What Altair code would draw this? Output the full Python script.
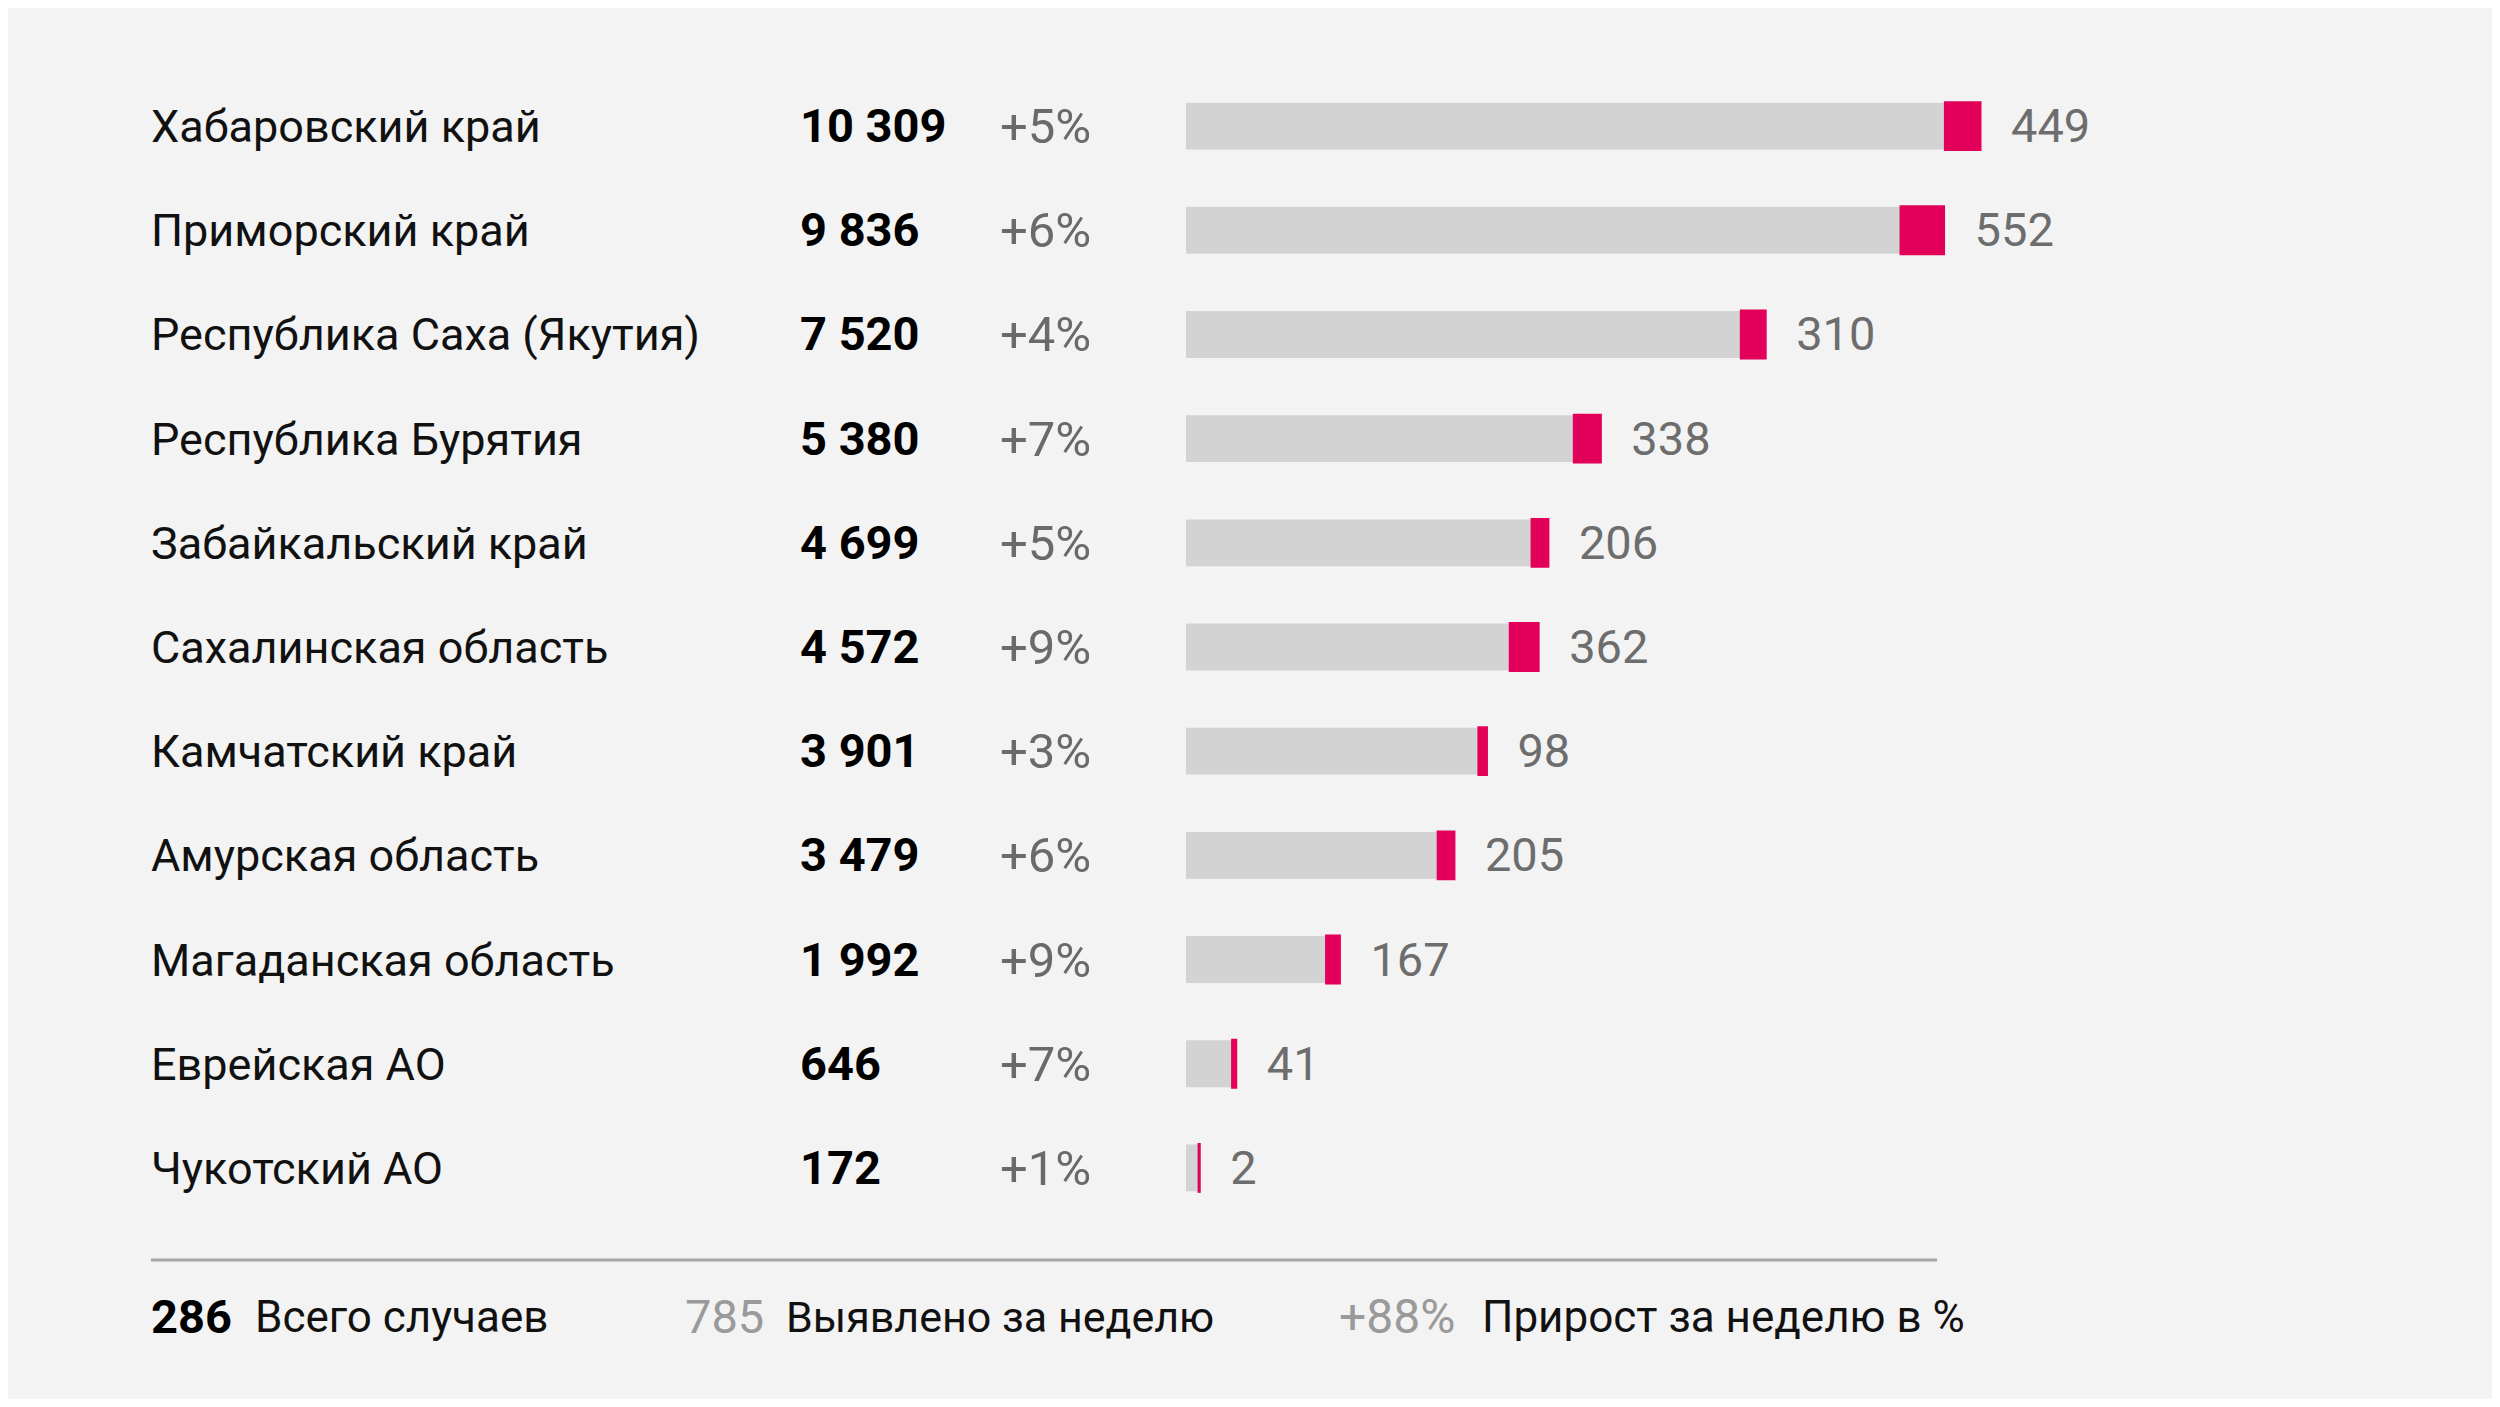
import altair as alt
import pandas as pd

regions = [
    "Хабаровский край",
    "Приморский край",
    "Республика Саха (Якутия)",
    "Республика Бурятия",
    "Забайкальский край",
    "Сахалинская область",
    "Камчатский край",
    "Амурская область",
    "Магаданская область",
    "Еврейская АО",
    "Чукотский АО",
]
totals = [10309, 9836, 7520, 5380, 4699, 4572, 3901, 3479, 1992, 646, 172]
weekly = [449, 552, 310, 338, 206, 362, 98, 205, 167, 41, 2]
growth = ["+5%", "+6%", "+4%", "+7%", "+5%", "+9%", "+3%", "+6%", "+9%", "+7%", "+1%"]

footer_values = ["286", "785", "+88%"]
footer_labels = ["Всего случаев", "Выявлено за неделю", "Прирост за неделю в %"]

df = pd.DataFrame({"region": regions, "total": totals, "weekly": weekly, "growth": growth})
df["base"] = df["total"] - df["weekly"]
df["total_label"] = [f"{v:,}".replace(",", " ") for v in totals]

FONT = "Roboto"
FS = 47
FS_NAME = 45
FS_FOOT = 44
BG = "#f3f3f3"

yenc = alt.Y(
    "region:N",
    sort=regions,
    axis=None,
    scale=alt.Scale(range=[66, 1212], paddingInner=0.55, paddingOuter=0.275),
)
xs = alt.Scale(domain=[0, 10309], range=[1178, 1972], nice=False, zero=True)

base = alt.Chart(df)

gray = base.mark_bar(color="#d3d3d3").encode(
    x=alt.X("base:Q", scale=xs, axis=None), y=yenc
)
red = base.mark_bar(color="#e3005a", stroke="#e3005a", strokeWidth=3).encode(
    x=alt.X("base:Q", scale=xs, axis=None), x2="total:Q", y=yenc
)

names = base.mark_text(align="left", baseline="middle", dy=2, fontSize=FS_NAME, font=FONT, color="#111111").encode(
    x=alt.value(143), y=yenc, text="region:N"
)
tot = base.mark_text(align="left", baseline="middle", dy=2, fontSize=FS, font=FONT, fontWeight="bold", color="#000000").encode(
    x=alt.value(792), y=yenc, text="total_label:N"
)
pct = base.mark_text(align="left", baseline="middle", dy=2, fontSize=49, font=FONT, color="#6a6a6a").encode(
    x=alt.value(992), y=yenc, text="growth:N"
)
newlab = base.mark_text(align="left", baseline="middle", dy=2, dx=31, fontSize=FS, font=FONT, color="#6d6d6d").encode(
    x=alt.X("total:Q", scale=xs, axis=None), y=yenc, text="weekly:Q"
)

rule = alt.Chart(pd.DataFrame({"a": [0]})).mark_rule(color="#a5a5a5", strokeWidth=3).encode(
    x=alt.value(143), x2=alt.value(1929), y=alt.value(1252)
)

f1 = alt.Chart(pd.DataFrame({"t": [footer_values[0]]})).mark_text(
    align="left", baseline="middle", fontSize=FS, font=FONT, fontWeight="bold", color="#000000"
).encode(x=alt.value(143), y=alt.value(1311), text="t:N")
f2 = alt.Chart(pd.DataFrame({"t": [footer_labels[0]]})).mark_text(
    align="left", baseline="middle", fontSize=FS_FOOT, font=FONT, color="#111111"
).encode(x=alt.value(247), y=alt.value(1311), text="t:N")
f3 = alt.Chart(pd.DataFrame({"t": [footer_values[1]]})).mark_text(
    align="left", baseline="middle", fontSize=FS, font=FONT, color="#9a9a9a"
).encode(x=alt.value(677), y=alt.value(1311), text="t:N")
f4 = alt.Chart(pd.DataFrame({"t": [footer_labels[1]]})).mark_text(
    align="left", baseline="middle", fontSize=43, font=FONT, color="#111111"
).encode(x=alt.value(778), y=alt.value(1311), text="t:N")
f5 = alt.Chart(pd.DataFrame({"t": [footer_values[2]]})).mark_text(
    align="left", baseline="middle", fontSize=48, font=FONT, color="#9a9a9a"
).encode(x=alt.value(1331), y=alt.value(1311), text="t:N")
f6 = alt.Chart(pd.DataFrame({"t": [footer_labels[2]]})).mark_text(
    align="left", baseline="middle", fontSize=FS_FOOT, font=FONT, color="#111111"
).encode(x=alt.value(1474), y=alt.value(1311), text="t:N")

chart = alt.layer(gray, red, names, tot, pct, newlab, rule, f1, f2, f3, f4, f5, f6).properties(
    width=2484, height=1391, padding=0, autosize="none", background=BG
).configure_view(stroke=None)

chart.save("out.html", embed_options={"renderer": "svg", "actions": False})
